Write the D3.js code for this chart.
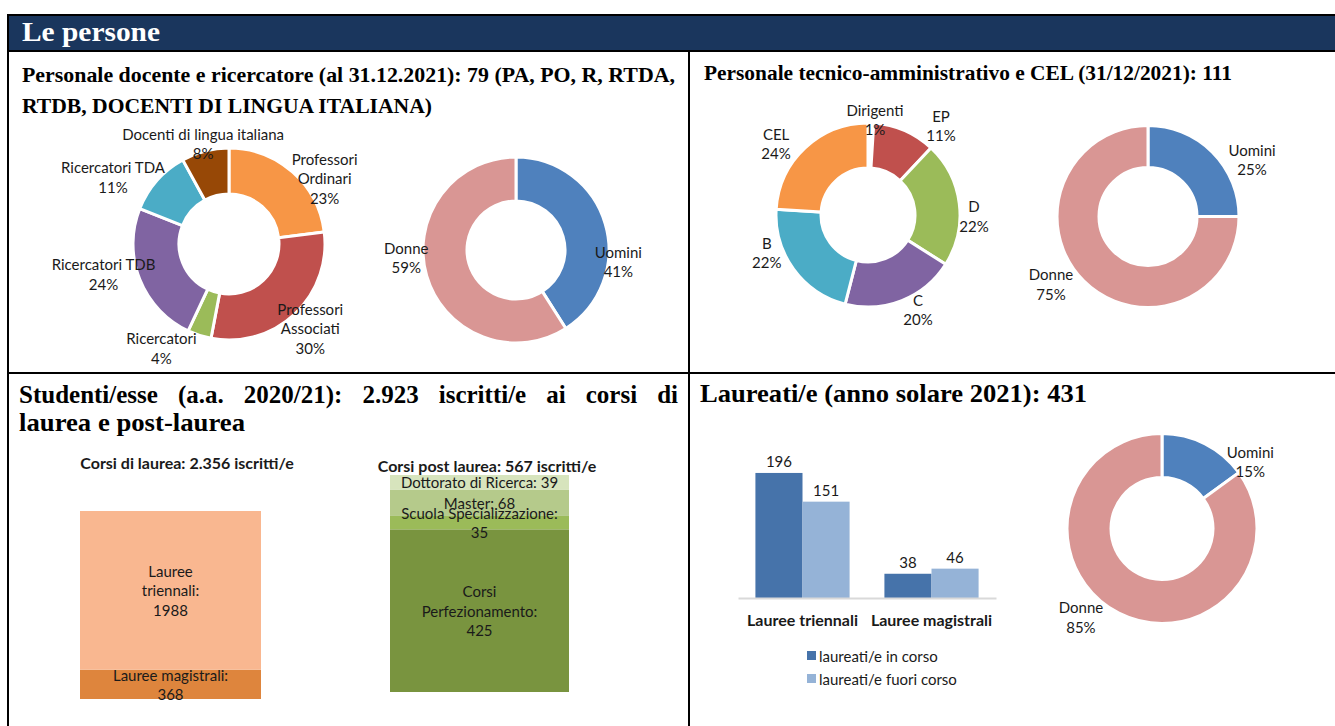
<!DOCTYPE html>
<meta charset="utf-8">
<html lang="it">
<head>
<title>Le persone</title>
<script src="https://d3js.org/d3.v7.min.js"></script>
<style>
  body { margin: 0; background: #fff; }
  .serif { font-family: "Liberation Serif", "Times New Roman", serif; font-weight: bold; fill: #000; }
  .lbl { font-family: Lato, "Open Sans", sans-serif; font-size: 15px; fill: #1a1a1a; }
  .bold { font-weight: bold; font-size: 16px; }
</style>
</head>
<body>
<svg width="1335" height="726"></svg>
<script>

// --- data (percentuali) ---
var docentiCat = ["Professori\nOrdinari", "Professori\nAssociati", "Ricercatori", "Ricercatori TDB", "Ricercatori TDA", "Docenti di lingua italiana"]
var docentiPct = [23, 30, 4, 24, 11, 8]

var genereCat = ["Uomini", "Donne"]
var docentiGenerePct = [41, 59]

var taCat = ["Dirigenti", "EP", "D", "C", "B", "CEL"]
var taPct = [1, 11, 22, 20, 22, 24]
var taGenerePct = [25, 75]

var laureaCat = ["Lauree magistrali", "Lauree\ntriennali"]
var laureaVal = [368, 1988]
var laureaJoin = ["\n", "\n"]

var postCat = ["Corsi\nPerfezionamento", "Scuola Specializzazione", "Master", "Dottorato di Ricerca"]
var postVal = [425, 35, 68, 39]
var postJoin = ["\n", "\n", " ", " "]

var barCats = ["Lauree triennali", "Lauree magistrali"]
var barSeries = ["laureati/e in corso", "laureati/e fuori corso"]
var inCorso = [196, 38]
var fuoriCorso = [151, 46]
var laureatiGenerePct = [15, 85]

var svg = d3.select('svg')

// --- cornice ---
svg.append('rect').attr('x', 8).attr('y', 15).attr('width', 1327).attr('height', 36).attr('fill', '#1a365d')
var frame = [[8, 15, 1335, 15], [8, 14, 8, 726], [8, 51, 1335, 51], [689, 51, 689, 726], [8, 373, 1335, 373]]
svg.selectAll('line.frame').data(frame).enter().append('line')
  .attr('class', 'frame')
  .attr('x1', function (d) { return d[0] }).attr('y1', function (d) { return d[1] })
  .attr('x2', function (d) { return d[2] }).attr('y2', function (d) { return d[3] })
  .attr('stroke', '#000').attr('stroke-width', 2)

function title(x, y, str, size, width, justify) {
  var t = svg.append('text').attr('class', 'serif').attr('x', x).attr('y', y)
    .attr('font-size', size).text(str)
  if (justify) {
    var gaps = str.split(' ').length - 1
    var w = t.node().getComputedTextLength()
    t.attr('word-spacing', (width - w) / gaps)
  } else {
    t.attr('textLength', width).attr('lengthAdjust', 'spacingAndGlyphs')
  }
  return t
}

title(22, 41, "Le persone", 28, 138).style('fill', '#fff')
title(22, 82, "Personale docente e ricercatore (al 31.12.2021): 79 (PA, PO, R, RTDA,", 22, 653)
title(22, 113, "RTDB, DOCENTI DI LINGUA ITALIANA)", 22, 410)
title(704, 80, "Personale tecnico-amministrativo e CEL (31/12/2021): 111", 21, 528)
title(19, 403, "Studenti/esse (a.a. 2020/21): 2.923 iscritti/e ai corsi di", 25, 659, true)
title(19, 431, "laurea e post-laurea", 25, 226)
title(700, 402, "Laureati/e (anno solare 2021): 431", 25, 387)

// --- ciambelle ---
function multiline(g, lines, x, y, lh) {
  var t = g.append('text').attr('class', 'lbl').attr('text-anchor', 'middle')
  lines.forEach(function (s, j) {
    t.append('tspan').attr('x', x).attr('y', y + (j - (lines.length - 1) / 2) * lh)
      .attr('dominant-baseline', 'central').text(s)
  })
  return t
}

function donut(cx, cy, R, r, names, values, colors, labelPos) {
  var g = svg.append('g').attr('transform', 'translate(' + cx + ',' + cy + ')')
  var pie = d3.pie().sort(null).value(function (d) { return d })
  var arc = d3.arc().outerRadius(R).innerRadius(r)
  var arcs = pie(values)
  g.selectAll('path').data(arcs).enter().append('path')
    .attr('d', arc)
    .attr('fill', function (d, i) { return colors[i] })
    .attr('stroke', '#fff').attr('stroke-width', 3)
  arcs.forEach(function (d, i) {
    var a = labelPos[i][0] * Math.PI / 180, dist = labelPos[i][1]
    var lines = names[i].split('\n').concat([values[i] + '%'])
    multiline(g, lines, dist * Math.sin(a), -dist * Math.cos(a), 19.5)
  })
}

var blu = '#4f81bd', rosa = '#d99694'

donut(229, 244, 96, 50, docentiCat, docentiPct,
  ['#f79646', '#c0504d', '#9bbb59', '#8064a2', '#4bacc6', '#974806'],
  [[55.5, 116], [136, 117], [213, 124], [256.5, 129], [300, 134], [345.6, 104]])
donut(516, 250, 93, 49, genereCat, docentiGenerePct, [blu, rosa],
  [[96.4, 103], [266, 110]])
// la fetta Dirigenti (1%) nel riferimento resta coperta dai bordi bianchi
donut(868, 215, 92, 47, taCat, taPct,
  ['#ffffff', '#c0504d', '#9bbb59', '#8064a2', '#4bacc6', '#f79646'],
  [[4.2, 96], [39.2, 115.5], [90.5, 106], [152.1, 107], [249.6, 108], [307.9, 116.5]])
donut(1148, 216.5, 91, 49, genereCat, taGenerePct, [blu, rosa],
  [[61.3, 118.6], [235.2, 118.2]])
donut(1162, 528.5, 95, 51, genereCat, laureatiGenerePct, [blu, rosa],
  [[52.7, 111], [222.5, 120]])

// --- colonne impilate iscritti ---
function stackCol(x0, x1, yBottom, yTop, names, values, joins, colors) {
  var y = d3.scaleLinear().domain([0, d3.sum(values)]).range([yBottom, yTop])
  var acc = 0
  var segs = values.map(function (v, i) {
    var s = { i: i, y0: acc, y1: acc + v }
    acc += v
    return s
  })
  svg.append('g').selectAll('rect').data(segs).enter().append('rect')
    .attr('x', x0).attr('width', x1 - x0)
    .attr('y', function (d) { return y(d.y1) })
    .attr('height', function (d) { return y(d.y0) - y(d.y1) })
    .attr('fill', function (d) { return colors[d.i] })
  segs.forEach(function (d) {
    var lines = (names[d.i] + ':' + joins[d.i] + values[d.i]).split('\n')
    multiline(svg, lines, (x0 + x1) / 2, (y(d.y0) + y(d.y1)) / 2, 19.5)
  })
}

svg.append('text').attr('class', 'lbl bold').attr('x', 187).attr('y', 462)
  .attr('text-anchor', 'middle').attr('dominant-baseline', 'central').text('Corsi di laurea: 2.356 iscritti/e')
svg.append('text').attr('class', 'lbl bold').attr('x', 487).attr('y', 465)
  .attr('text-anchor', 'middle').attr('dominant-baseline', 'central').text('Corsi post laurea: 567 iscritti/e')

stackCol(80, 261, 699, 511, laureaCat, laureaVal, laureaJoin, ['#de853d', '#f9b790'])
stackCol(390, 569, 692, 475, postCat, postVal, postJoin, ['#79943f', '#9bbb59', '#b5ca8b', '#d7e4bd'])

// --- istogramma laureati ---
var barColors = ['#4673aa', '#95b3d7']
var x = d3.scaleBand().domain(barCats).range([738, 996]).paddingInner(0.27).paddingOuter(0.135)
var xs = d3.scaleBand().domain(barSeries).range([0, x.bandwidth()])
var y = d3.scaleLinear().domain([0, 250]).range([598, 438.5])

var barData = []
barCats.forEach(function (c, i) {
  barData.push({ cat: c, s: barSeries[0], v: inCorso[i], k: 0 })
  barData.push({ cat: c, s: barSeries[1], v: fuoriCorso[i], k: 1 })
})

var bars = svg.append('g')
bars.selectAll('rect').data(barData).enter().append('rect')
  .attr('x', function (d) { return x(d.cat) + xs(d.s) })
  .attr('width', xs.bandwidth())
  .attr('y', function (d) { return y(d.v) })
  .attr('height', function (d) { return y(0) - y(d.v) })
  .attr('fill', function (d) { return barColors[d.k] })
bars.selectAll('text').data(barData).enter().append('text')
  .attr('class', 'lbl').attr('text-anchor', 'middle')
  .attr('x', function (d) { return x(d.cat) + xs(d.s) + xs.bandwidth() / 2 })
  .attr('y', function (d) { return y(d.v) - 6 })
  .text(function (d) { return d.v })

var axis = svg.append('g').attr('transform', 'translate(0,598)')
  .call(d3.axisBottom(x).tickSize(0).tickPadding(17))
axis.select('.domain').attr('stroke', '#d9d9d9').attr('stroke-width', 2)
axis.selectAll('text').attr('class', 'lbl bold').style('font-size', '16px')
  .style('font-family', 'Lato, "Open Sans", sans-serif').attr('fill', '#1a1a1a')

var legend = svg.append('g').selectAll('g').data(barSeries).enter().append('g')
  .attr('transform', function (d, i) { return 'translate(807,' + (651 + i * 23) + ')' })
legend.append('rect').attr('width', 9).attr('height', 9).attr('fill', function (d, i) { return barColors[i] })
legend.append('text').attr('class', 'lbl').attr('x', 12).attr('y', 4.5)
  .attr('dominant-baseline', 'central').text(function (d) { return d })

</script>
</body>
